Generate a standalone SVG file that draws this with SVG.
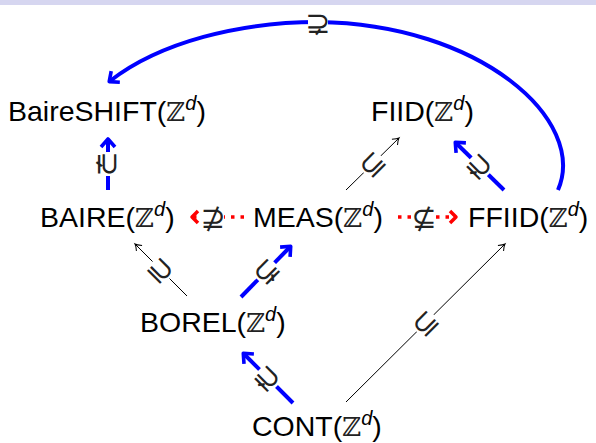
<svg xmlns="http://www.w3.org/2000/svg" width="596" height="443" viewBox="0 0 596 443">
<defs>
<style>
.node{font-family:"Liberation Sans",Arial,sans-serif;font-size:28.5px;fill:#000}
.z{font-family:"DejaVu Serif","DejaVu Sans",serif;font-size:26px;fill:#222}
.sup{font-style:italic;font-size:20px}
.lbl{font-family:"DejaVu Sans",sans-serif;font-size:30px;fill:#222;text-anchor:middle;dominant-baseline:central}
.blue{stroke:#0000ff;stroke-width:4;fill:none}
.thin{stroke:#000;stroke-width:1;fill:none}
.red{stroke:#ff0000;stroke-width:3.5;fill:none;stroke-dasharray:3.5 6}
.bg{fill:#fff}
</style>
<marker id="ab" markerUnits="userSpaceOnUse" markerWidth="20" markerHeight="20" viewBox="-10 -10 20 20" refX="0" refY="0" orient="auto" overflow="visible">
<path d="M-7,-7 L1,0 L-7,7" fill="none" stroke="#0000ff" stroke-width="3.6" stroke-linejoin="round"/>
</marker>
<marker id="ak" markerUnits="userSpaceOnUse" markerWidth="14" markerHeight="14" viewBox="-7 -7 14 14" refX="0" refY="0" orient="auto" overflow="visible">
<path d="M-6,-4 Q-2,-0.6 0,0 Q-2,0.6 -6,4" fill="none" stroke="#000" stroke-width="1"/>
</marker>
<marker id="ar" markerUnits="userSpaceOnUse" markerWidth="16" markerHeight="16" viewBox="-8 -8 16 16" refX="0" refY="0" orient="auto" overflow="visible">
<path d="M-5,-6 L1,0 L-5,6" fill="none" stroke="#ff0000" stroke-width="3.5" stroke-linejoin="round"/>
</marker>
</defs>
<rect x="0" y="0" width="596" height="5" fill="#d6d6f0"/>
<g id="connectors">
<path class="blue" d="M558,190 C588,120 480,24 318,22 C240,22 160,42 110,81" marker-end="url(#ab)"/>
<g transform="translate(318,22)"><rect class="bg" x="-10" y="-14" width="20" height="28"/><text class="lbl" x="0" y="0">⊋</text></g>

<path class="blue" d="M108,190 L108,140" marker-end="url(#ab)"/>
<g transform="translate(108,164) rotate(90)"><rect class="bg" x="-12" y="-13" width="24" height="26"/><text class="lbl" x="0" y="0">⊋</text></g>

<path class="red" d="M244,217 L193,217" marker-end="url(#ar)"/>
<g transform="translate(213,217)"><rect class="bg" x="-11" y="-14" width="22" height="28"/><text class="lbl" x="0" y="0">⊉</text></g>

<path class="red" d="M398,217 L455,217" marker-end="url(#ar)"/>
<g transform="translate(424,217)"><rect class="bg" x="-11" y="-14" width="22" height="28"/><text class="lbl" x="0" y="0">⊈</text></g>

<path class="thin" d="M187,296 L135,244" marker-end="url(#ak)"/>
<g transform="translate(161,270) rotate(45)"><rect class="bg" x="-12" y="-13" width="24" height="26"/><text class="lbl" x="0" y="0">⊇</text></g>

<path class="blue" d="M241,297 L290,247" marker-end="url(#ab)"/>
<g transform="translate(266,271) rotate(-45)"><rect class="bg" x="-12" y="-13" width="24" height="26"/><text class="lbl" x="0" y="0">⊊</text></g>

<path class="blue" d="M293,403 L244,354" marker-end="url(#ab)"/>
<g transform="translate(268,378) rotate(45)"><rect class="bg" x="-12" y="-13" width="24" height="26"/><text class="lbl" x="0" y="0">⊋</text></g>

<path class="thin" d="M346,402 L505,244" marker-end="url(#ak)"/>
<g transform="translate(425,323) rotate(-45)"><rect class="bg" x="-12" y="-13" width="24" height="26"/><text class="lbl" x="0" y="0">⊆</text></g>

<path class="thin" d="M346,190 L399,138" marker-end="url(#ak)"/>
<g transform="translate(372,164) rotate(-45)"><rect class="bg" x="-12" y="-13" width="24" height="26"/><text class="lbl" x="0" y="0">⊆</text></g>

<path class="blue" d="M504,190 L456,143" marker-end="url(#ab)"/>
<g transform="translate(480,166) rotate(45)"><rect class="bg" x="-12" y="-13" width="24" height="26"/><text class="lbl" x="0" y="0">⊋</text></g>
</g>
<g id="baireshift"><text class="node" x="8" y="121">BaireSHIFT(<tspan class="z">ℤ</tspan><tspan class="sup" dy="-11">d</tspan><tspan dy="11">)</tspan></text></g>
<g id="fiid"><text class="node" x="371" y="121">FIID(<tspan class="z">ℤ</tspan><tspan class="sup" dy="-11">d</tspan><tspan dy="11">)</tspan></text></g>
<g id="baire"><text class="node" x="40" y="227">BAIRE(<tspan class="z">ℤ</tspan><tspan class="sup" dy="-11">d</tspan><tspan dy="11">)</tspan></text></g>
<g id="meas"><text class="node" x="253" y="227">MEAS(<tspan class="z">ℤ</tspan><tspan class="sup" dy="-11">d</tspan><tspan dy="11">)</tspan></text></g>
<g id="ffiid"><text class="node" x="468" y="227">FFIID(<tspan class="z">ℤ</tspan><tspan class="sup" dy="-11">d</tspan><tspan dy="11">)</tspan></text></g>
<g id="borel"><text class="node" x="140" y="332">BOREL(<tspan class="z">ℤ</tspan><tspan class="sup" dy="-11">d</tspan><tspan dy="11">)</tspan></text></g>
<g id="cont"><text class="node" x="252" y="436">CONT(<tspan class="z">ℤ</tspan><tspan class="sup" dy="-11">d</tspan><tspan dy="11">)</tspan></text></g>
</svg>
